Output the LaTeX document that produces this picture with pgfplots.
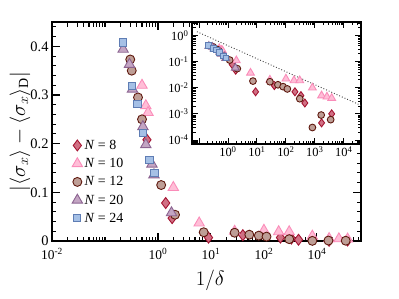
\documentclass[border=0pt]{standalone}
\usepackage{fontspec}
\setmainfont{Liberation Serif}
\usepackage{pgfplots}
\usepackage{pgfplotstable}
\pgfplotsset{compat=1.18}
\definecolor{c8f}{RGB}{208,112,132}
\definecolor{c8e}{RGB}{165,20,50}
\definecolor{c10f}{RGB}{255,190,215}
\definecolor{c10e}{RGB}{250,140,185}
\definecolor{c12f}{RGB}{190,158,150}
\definecolor{c12e}{RGB}{95,25,15}
\definecolor{c20f}{RGB}{195,165,195}
\definecolor{c20e}{RGB}{140,100,145}
\definecolor{c24f}{RGB}{165,192,230}
\definecolor{c24e}{RGB}{95,125,180}

\pgfplotstableread{
x y
0.62 0.208
1.4 0.078
1.85 0.047
9 0.007
40 0.012
205 0.007
330 0.005
450 0.0026
1700 0.00045
3800 0.001
}\dataA
\pgfplotstableread{
x y
0.50 0.32
0.59 0.278
0.65 0.264
1.95 0.11
6.0 0.037
28 0.02
100 0.022
190 0.019
300 0.019
820 0.01
1700 0.005
2600 0.0045
3800 0.004
}\dataB
\pgfplotstableread{
x y
0.30 0.373
0.32 0.35
0.42 0.295
0.50 0.25
1.15 0.115
2.1 0.054
7.3 0.018
28 0.017
53 0.013
80 0.011
112 0.009
300 0.0038
820 0.0003
1650 0.0009
3500 0.0006
}\dataC
\pgfplotstableread{
x y
0.22 0.394
0.29 0.363
0.33 0.312
0.52 0.235
0.59 0.198
0.77 0.158
0.84 0.136
1.8 0.058
}\dataD
\pgfplotstableread{
x y
0.215 0.408
0.32 0.318
0.41 0.282
0.52 0.222
0.69 0.166
0.86 0.14
}\dataE

\pgfplotsset{
  sA/.style={only marks, mark=diamond*, mark size=#1, mark options={fill=c8f, draw=c8e, line width=0.9pt}},
  sB/.style={only marks, mark=triangle*, mark size=#1, mark options={fill=c10f, draw=c10e, line width=0.9pt}},
  sC/.style={only marks, mark=*, mark size=#1, mark options={fill=c12f, draw=c12e, line width=0.9pt}},
  sD/.style={only marks, mark=triangle*, mark size=#1, mark options={fill=c20f, draw=c20e, line width=0.9pt}},
  sE/.style={only marks, mark=square*, mark size=#1, mark options={fill=c24f, draw=c24e, line width=0.9pt}},
}

\begin{document}
\begin{tikzpicture}
\path[use as bounding box] (0,0) rectangle (399bp,299bp);
\begin{axis}[
  at={(52bp,58bp)}, anchor=south west,
  scale only axis, width=309bp, height=219bp,
  xmode=log, xmin=1e-2, xmax=6800,
  ymin=0, ymax=0.45,
  clip=false,
  axis line style={line width=1.1pt},
  every tick/.style={black, line width=1.1pt},
  major tick length=8bp, minor tick length=4.5bp,
  xtick={1e-2,1,10,100,1000},
  xticklabels={10\textsuperscript{-2},10\textsuperscript{0},10\textsuperscript{1},10\textsuperscript{2},10\textsuperscript{4}},
  minor xtick={0.02,0.03,0.04,0.05,0.06,0.07,0.08,0.09,0.1,0.2,0.3,0.4,0.5,0.6,0.7,0.8,0.9,2,3,4,5,6,7,8,9,20,30,40,50,60,70,80,90,200,300,400,500,600,700,800,900,2000,3000,4000,5000,6000},
  ytick={0,0.1,0.2,0.3,0.4},
  yticklabels={0,0.1,0.2,0.3,0.4},
  minor ytick={0.02,0.04,0.06,0.08,0.12,0.14,0.16,0.18,0.22,0.24,0.26,0.28,0.32,0.34,0.36,0.38,0.42,0.44},
  xticklabel style={font=\fontsize{13.5}{13.5}\selectfont, yshift=-4bp},
  yticklabel style={font=\fontsize{14.5}{14.5}\selectfont},
  xlabel={$1/\delta$},
  xlabel style={at={(axis description cs:0.512,-0.18)}, anchor=center, font=\fontsize{20}{20}\selectfont},
  ylabel={$\left|\langle\sigma_x\rangle-\langle\sigma_x\rangle_{\mathrm{D}}\right|$},
  ylabel style={at={(axis description cs:-0.104,0.5)}, anchor=center, font=\fontsize{20}{20}\selectfont},
  legend style={draw=none, fill=none, at={(0.055,0.48)}, anchor=north west, font=\fontsize{14}{14}\selectfont, row sep=3.5pt},
  legend cell align=left,
]
\addplot[sA=5.5pt] table {\dataA}; \addlegendentry{\textit{N} = 8}
\addplot[sB=6pt] table {\dataB}; \addlegendentry{\textit{N} = 10}
\addplot[sC=4.5pt] table {\dataC}; \addlegendentry{\textit{N} = 12}
\addplot[sD=6pt] table {\dataD}; \addlegendentry{\textit{N} = 20}
\addplot[sE=3.6pt] table {\dataE}; \addlegendentry{\textit{N} = 24}
\end{axis}
\begin{axis}[
  at={(192bp,155bp)}, anchor=south west,
  scale only axis, width=169bp, height=122bp,
  xmode=log, ymode=log,
  xmin=0.0575, xmax=39000, ymin=7e-5, ymax=3.3,
  axis background/.style={fill=white},
  axis line style={line width=1.1pt},
  every tick/.style={black, line width=0.9pt},
  major tick length=6bp, minor tick length=3.5bp,
  xtick={0.1,1,10,100,1000,10000},
  xticklabels={,10\textsuperscript{0},10\textsuperscript{1},10\textsuperscript{2},10\textsuperscript{3},10\textsuperscript{4}},
  minor xtick={0.06,0.07,0.08,0.09,0.2,0.3,0.4,0.5,0.6,0.7,0.8,0.9,2,3,4,5,6,7,8,9,20,30,40,50,60,70,80,90,200,300,400,500,600,700,800,900,2000,3000,4000,5000,6000,7000,8000,9000,20000,30000},
  ytick={1e-4,1e-3,1e-2,1e-1,1},
  yticklabels={10\textsuperscript{-4},10\textsuperscript{-3},10\textsuperscript{-2},10\textsuperscript{-1},10\textsuperscript{0}},
  minor ytick={8e-5,9e-5,2e-4,3e-4,4e-4,5e-4,6e-4,7e-4,8e-4,9e-4,2e-3,3e-3,4e-3,5e-3,6e-3,7e-3,8e-3,9e-3,2e-2,3e-2,4e-2,5e-2,6e-2,7e-2,8e-2,9e-2,0.2,0.3,0.4,0.5,0.6,0.7,0.8,0.9,2,3},
  tick label style={font=\fontsize{12.5}{12.5}\selectfont},
  xticklabel style={yshift=1bp},
]
\addplot[dotted, line width=0.9pt, black!75] coordinates {(0.085,1.4) (39000,0.0021)};
\addplot[sA=4pt] table {\dataA};
\addplot[sB=4.5pt] table {\dataB};
\addplot[sC=3.4pt] table {\dataC};
\addplot[sD=4.5pt] table {\dataD};
\addplot[sE=2.8pt] table {\dataE};
\end{axis}
\end{tikzpicture}
\end{document}
